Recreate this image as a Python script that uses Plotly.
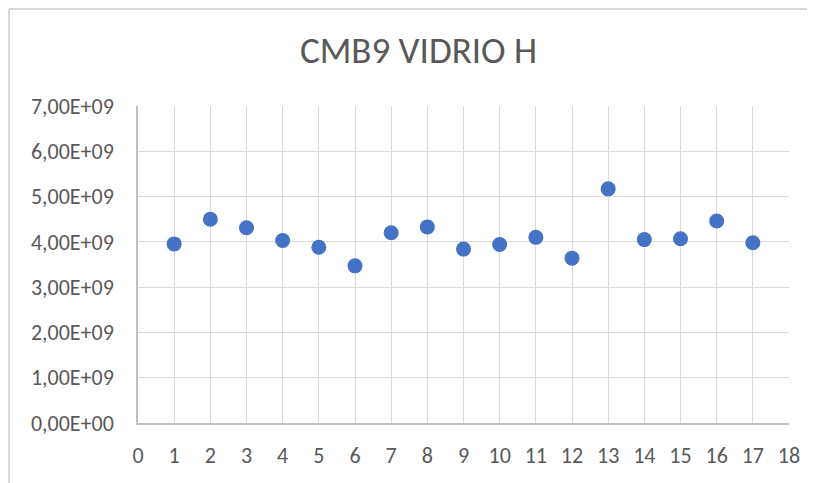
import plotly.graph_objects as go

# data
muestra = list(range(1, 18))
valores = [3.955e9, 4.50e9, 4.31e9, 4.03e9, 3.88e9, 3.47e9, 4.20e9, 4.33e9, 3.84e9,
           3.94e9, 4.10e9, 3.64e9, 5.17e9, 4.05e9, 4.07e9, 4.46e9, 3.98e9]
y_ticks = [0, 1e9, 2e9, 3e9, 4e9, 5e9, 6e9, 7e9]
y_labels = ["0,00E+00", "1,00E+09", "2,00E+09", "3,00E+09",
            "4,00E+09", "5,00E+09", "6,00E+09", "7,00E+09"]
x_ticks = list(range(0, 19))

# the page puts the plot 8px in from the top-left corner, so shrink to fit
OFF = 8
W, H = 815 - OFF, 483 - OFF
L, R, T, B = 138 - OFF, 26, 106 - OFF, 60
TXT = "#595959"
GRID = "#d9d9d9"
FONT = "Carlito, Calibri, 'Open Sans', sans-serif"

fig = go.Figure(
    go.Scatter(
        x=muestra, y=valores, mode="markers",
        marker=dict(color="#4472C4", size=15, line=dict(width=0)),
        showlegend=False, cliponaxis=False,
    )
)

fig.update_layout(
    width=W, height=H,
    margin=dict(l=L, r=R, t=T, b=B, autoexpand=False),
    paper_bgcolor="white", plot_bgcolor="white",
    font=dict(family=FONT, color=TXT, size=22),
    title=dict(text="CMB9 VIDRIO H", x=(418.5 - OFF) / W, xanchor="center",
               y=1 - (50 - OFF) / H, yanchor="middle",
               font=dict(size=37, color=TXT, family=FONT)),
    xaxis=dict(range=[0, 18], tickvals=x_ticks, showgrid=True, gridcolor=GRID, gridwidth=1.3,
               showline=True, linecolor="#bfbfbf", linewidth=1.5, zeroline=False,
               ticks="", ticklen=0, tickfont=dict(size=22, color=TXT), ticklabelstandoff=12),
    yaxis=dict(range=[0, 7e9], tickvals=y_ticks, ticktext=y_labels, showgrid=True,
               gridcolor=GRID, gridwidth=1.3, showline=True, linecolor="#bfbfbf", linewidth=1.5,
               zeroline=False, ticks="", tickfont=dict(size=22, color=TXT), ticklabelstandoff=18),
    shapes=[
        # chart area border (top and left, as in the reference crop)
        dict(type="line", xref="paper", yref="paper",
             x0=(1 - L) / (W - L - R), x1=(W - L) / (W - L - R),
             y0=(H - B - 1) / (H - T - B), y1=(H - B - 1) / (H - T - B),
             line=dict(color=GRID, width=2)),
        dict(type="line", xref="paper", yref="paper",
             x0=(1 - L) / (W - L - R), x1=(1 - L) / (W - L - R),
             y0=(H - B - 1) / (H - T - B), y1=-B / (H - T - B),
             line=dict(color=GRID, width=2)),
    ],
)

fig.write_html("out.html")
